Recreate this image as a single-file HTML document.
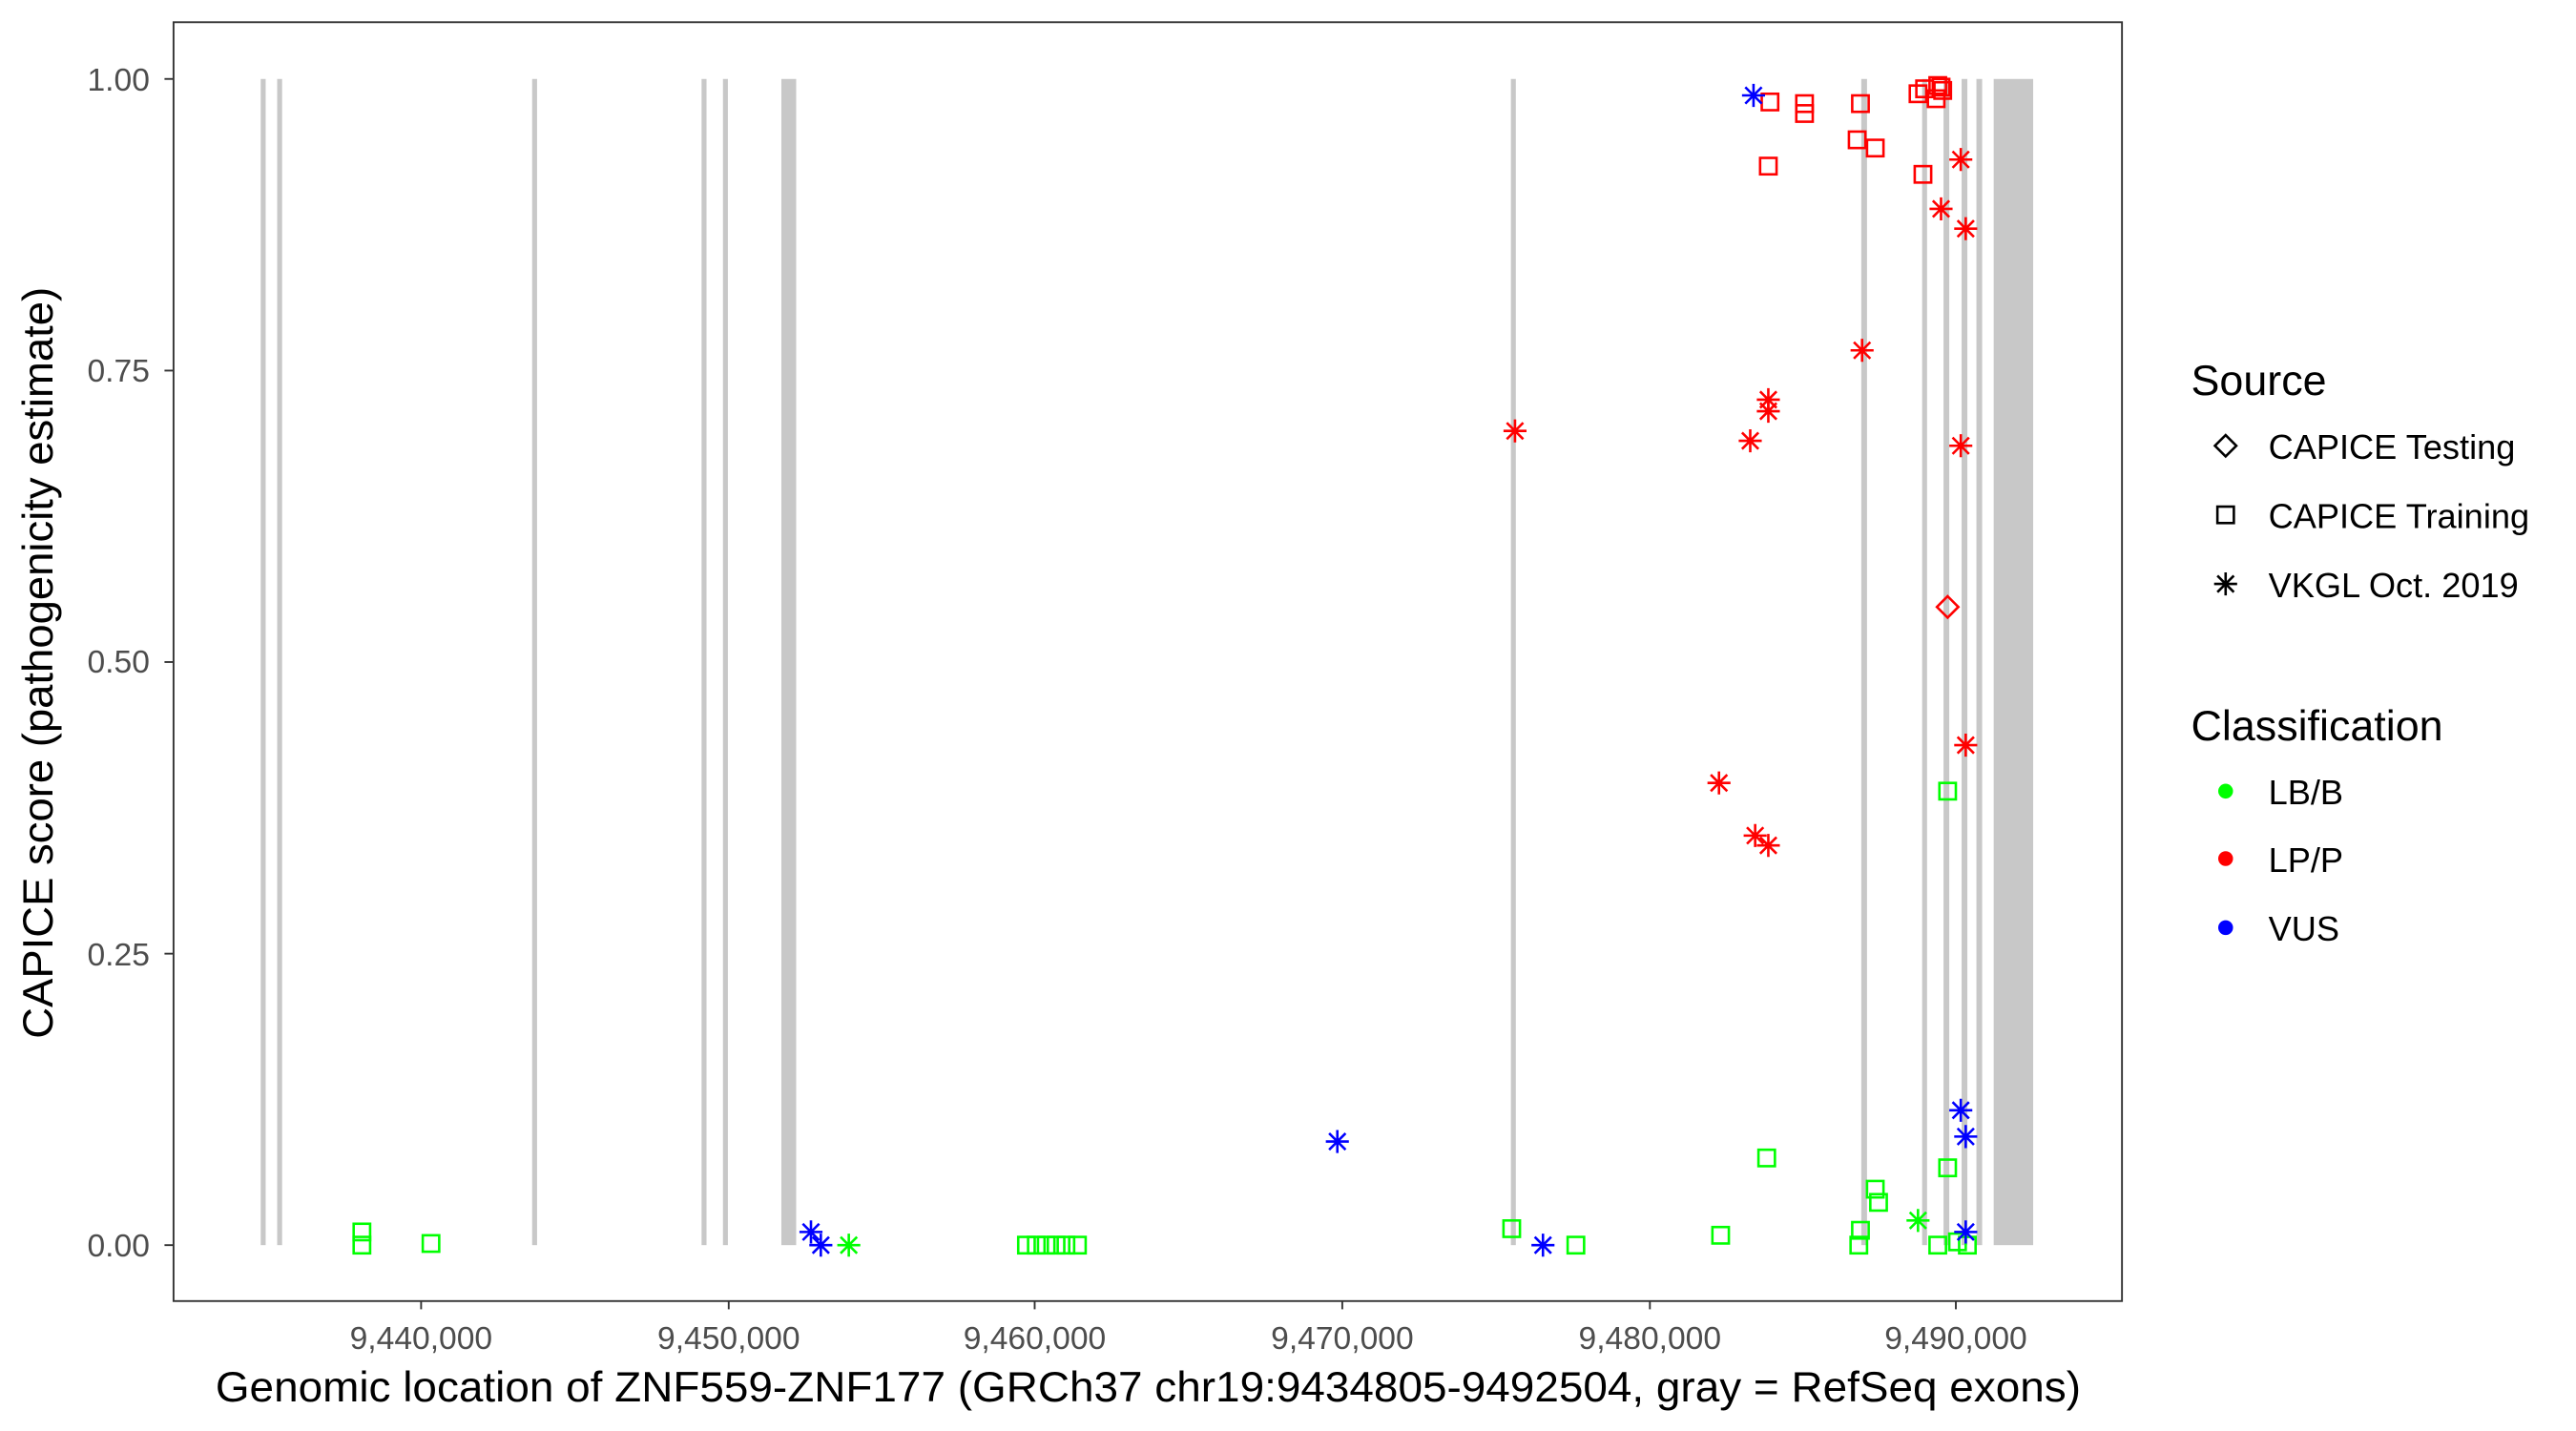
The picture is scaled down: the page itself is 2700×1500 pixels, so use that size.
<!DOCTYPE html>
<html><head><meta charset="utf-8"><style>html,body{margin:0;padding:0;background:#fff}svg{display:block}</style></head>
<body>
<svg width="2700" height="1500" viewBox="0 0 1566 870" xmlns="http://www.w3.org/2000/svg" font-family="Liberation Sans, sans-serif">
<defs>
<path id="st" d="M0,-7V7M-7,0H7M-5,-5L5,5M-5,5L5,-5" fill="none" stroke-width="1.5"/>
<rect id="sq" x="-5" y="-5" width="10" height="10" fill="none" stroke-width="1.5"/>
<path id="dm" d="M0,-6.5L6.5,0L0,6.5L-6.5,0Z" fill="none" stroke-width="1.5"/>
</defs>
<rect width="1566" height="870" fill="#fff"/>
<g fill="#c8c8c8">
<rect x="158.5" y="48" width="3" height="709"/>
<rect x="168.5" y="48" width="3" height="709"/>
<rect x="323.5" y="48" width="3" height="709"/>
<rect x="426.5" y="48" width="3" height="709"/>
<rect x="439.5" y="48" width="3" height="709"/>
<rect x="475" y="48" width="9" height="709"/>
<rect x="918.5" y="48" width="3" height="709"/>
<rect x="1131.5" y="48" width="3.5" height="709"/>
<rect x="1168.5" y="48" width="3" height="709"/>
<rect x="1181.5" y="48" width="3.5" height="709"/>
<rect x="1192.5" y="48" width="3.5" height="709"/>
<rect x="1201.5" y="48" width="3.5" height="709"/>
<rect x="1212" y="48" width="24" height="709"/>
</g>
<g stroke="#ff0000">
<use href="#sq" x="1076" y="62"/><use href="#sq" x="1097" y="63"/><use href="#sq" x="1097" y="69"/>
<use href="#sq" x="1131" y="63"/><use href="#sq" x="1075" y="101"/><use href="#sq" x="1129" y="85"/>
<use href="#sq" x="1140" y="90"/><use href="#sq" x="1166" y="57"/><use href="#sq" x="1170" y="54"/>
<use href="#sq" x="1178" y="52"/><use href="#sq" x="1180" y="53"/><use href="#sq" x="1181" y="55"/>
<use href="#sq" x="1177" y="60"/><use href="#sq" x="1169" y="106"/>
<use href="#st" x="1192" y="97"/><use href="#st" x="1180" y="127"/><use href="#st" x="1195" y="139"/>
<use href="#st" x="1132" y="213"/><use href="#st" x="1075" y="243"/><use href="#st" x="1075" y="250"/>
<use href="#st" x="1064" y="268"/><use href="#st" x="921" y="262"/><use href="#st" x="1192" y="271"/>
<use href="#st" x="1045" y="476"/><use href="#st" x="1067" y="508"/><use href="#st" x="1075" y="514"/>
<use href="#st" x="1195" y="453"/>
<use href="#dm" x="1184" y="369"/>
</g>
<g stroke="#00ff00">
<use href="#sq" x="220" y="749"/><use href="#sq" x="220" y="757"/><use href="#sq" x="262" y="756"/>
<use href="#sq" x="624" y="757"/><use href="#sq" x="630" y="757"/><use href="#sq" x="636" y="757"/>
<use href="#sq" x="642" y="757"/><use href="#sq" x="648" y="757"/><use href="#sq" x="655" y="757"/>
<use href="#sq" x="919" y="747"/><use href="#sq" x="958" y="757"/><use href="#sq" x="1046" y="751"/>
<use href="#sq" x="1074" y="704"/><use href="#sq" x="1140" y="723"/><use href="#sq" x="1142" y="731"/>
<use href="#sq" x="1131" y="748"/><use href="#sq" x="1130" y="757"/><use href="#sq" x="1184" y="481"/>
<use href="#sq" x="1184" y="710"/><use href="#sq" x="1178" y="757"/><use href="#sq" x="1190" y="755"/>
<use href="#sq" x="1196" y="757"/>
<use href="#st" x="516" y="757"/><use href="#st" x="1166" y="742"/>
</g>
<g stroke="#0000ff">
<use href="#st" x="1066" y="58"/><use href="#st" x="813" y="694"/><use href="#st" x="493" y="749"/>
<use href="#st" x="499" y="757"/><use href="#st" x="938" y="757"/><use href="#st" x="1192" y="675"/>
<use href="#st" x="1195" y="691"/><use href="#st" x="1195" y="749"/>
</g>
<rect x="105.5" y="13.5" width="1184.5" height="777.5" fill="none" stroke="#333" stroke-width="1.1"/>
<g stroke="#333" stroke-width="1.1">
<line x1="100" x2="105" y1="48" y2="48"/><line x1="100" x2="105" y1="225.3" y2="225.3"/>
<line x1="100" x2="105" y1="402.5" y2="402.5"/><line x1="100" x2="105" y1="579.8" y2="579.8"/>
<line x1="100" x2="105" y1="757" y2="757"/>
<line x1="256" x2="256" y1="791" y2="796"/><line x1="443" x2="443" y1="791" y2="796"/>
<line x1="629" x2="629" y1="791" y2="796"/><line x1="816" x2="816" y1="791" y2="796"/>
<line x1="1003" x2="1003" y1="791" y2="796"/><line x1="1189" x2="1189" y1="791" y2="796"/>
</g>
<g fill="#4d4d4d" font-size="19.5" text-anchor="end">
<text x="91" y="55">1.00</text><text x="91" y="232">0.75</text><text x="91" y="409">0.50</text>
<text x="91" y="587">0.25</text><text x="91" y="764">0.00</text>
</g>
<g fill="#4d4d4d" font-size="19.5" text-anchor="middle">
<text x="256" y="820">9,440,000</text><text x="443" y="820">9,450,000</text><text x="629" y="820">9,460,000</text>
<text x="816" y="820">9,470,000</text><text x="1003" y="820">9,480,000</text><text x="1189" y="820">9,490,000</text>
</g>
<text x="698" y="852" font-size="26" text-anchor="middle" textLength="1134" lengthAdjust="spacingAndGlyphs">Genomic location of ZNF559-ZNF177 (GRCh37 chr19:9434805-9492504, gray = RefSeq exons)</text>
<text transform="translate(32,403) rotate(-90)" font-size="26" text-anchor="middle" textLength="457" lengthAdjust="spacingAndGlyphs">CAPICE score (pathogenicity estimate)</text>
<text x="1332" y="240" font-size="26">Source</text>
<g stroke="#000"><use href="#dm" x="1353" y="271"/><use href="#sq" x="1353" y="313"/><use href="#st" x="1353" y="355"/></g>
<g font-size="21"><text x="1379" y="279">CAPICE Testing</text><text x="1379" y="321">CAPICE Training</text><text x="1379" y="363">VKGL Oct. 2019</text></g>
<text x="1332" y="450" font-size="26">Classification</text>
<circle cx="1353" cy="481" r="4.5" fill="#00ff00"/><circle cx="1353" cy="522" r="4.5" fill="#ff0000"/><circle cx="1353" cy="564" r="4.5" fill="#0000ff"/>
<g font-size="21"><text x="1379" y="489">LB/B</text><text x="1379" y="530">LP/P</text><text x="1379" y="572">VUS</text></g>
</svg>
</body></html>
